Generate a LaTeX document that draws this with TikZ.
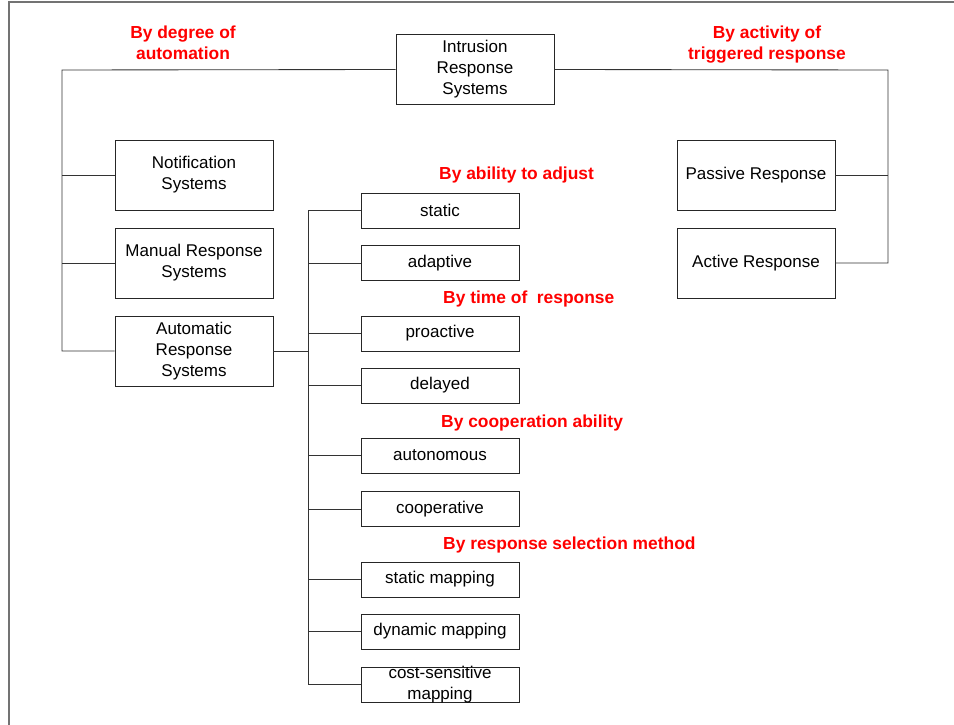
\documentclass[tikz,border=0pt]{standalone}
\usepackage{fontspec}
\setmainfont{Liberation Sans}
\begin{document}
\begin{tikzpicture}[x=1pt,y=-1pt,
  every node/.style={font=\fontsize{17}{21}\selectfont},
  bigbox/.style={draw=black!85, line width=0.9pt, fill=white, minimum width=158pt,
    minimum height=70pt, inner sep=0pt, align=center},
  smallbox/.style={draw=black!85, line width=0.9pt, fill=white, minimum width=158pt,
    minimum height=35pt, inner sep=0pt, align=center},
  cat/.style={text=red, font=\fontsize{17.4}{21}\selectfont\bfseries, align=center, inner sep=0pt},
  link/.style={draw=black!80, line width=0.85pt},
  frame/.style={draw=black!55, line width=2pt}]
\useasboundingbox (0,0) rectangle (954,725);

% page frame
\draw[frame] (9,725) -- (9,2) -- (954,2);

% root
\node[bigbox] (irs) at (475,69.5) {Intrusion\\Response\\Systems};

% by degree of automation
\node[bigbox] (notif) at (194,175) {Notification\\Systems};
\node[bigbox] (manual) at (194,263) {Manual Response\\Systems};
\node[bigbox] (auto) at (194,351) {Automatic\\Response\\Systems};

% by activity of triggered response
\node[bigbox] (passive) at (756,175) {Passive Response};
\node[bigbox] (active) at (756,263) {Active Response};

% automatic response subclasses
\node[smallbox] (static) at (440,210.5) {static};
\node[smallbox] (adaptive) at (440,263) {adaptive};
\node[smallbox] (proactive) at (440,333.5) {proactive};
\node[smallbox] (delayed) at (440,385.5) {delayed};
\node[smallbox] (autonomous) at (440,455.5) {autonomous};
\node[smallbox] (cooperative) at (440,509) {cooperative};
\node[smallbox] (smap) at (440,579.5) {static mapping};
\node[smallbox] (dmap) at (440,631.5) {dynamic mapping};
\node[smallbox] (cmap) at (440,684.5) {\parbox[c][35pt][c]{158pt}{\centering cost-sensitive\\mapping}};

% category labels
\node[cat] (lblauto) at (183,43) {By degree of\\automation};
\node[cat] (lblact) at (767,44.5) {By activity of\\triggered response};
\node[cat, anchor=west] (lbladj) at (439,175.5) {By ability to adjust};
\node[cat, anchor=west] (lbltime) at (443,298.5) {By time of\ \ response};
\node[cat, anchor=west] (lblcoop) at (441,422.5) {By cooperation ability};
\node[cat, anchor=west] (lblsel) at (443,544.5) {By response selection method};

% connector junctions
\coordinate (lt) at (62,70);
\coordinate (rt) at (888,70);
\coordinate (bus) at (308,351);

% left tree
\draw[link] (irs.west) -- (lt) |- (auto.west);
\draw[link] (lt |- notif.west) -- (notif.west);
\draw[link] (lt |- manual.west) -- (manual.west);

% right tree
\draw[link] (irs.east) -- (rt) |- (active.east);
\draw[link] (rt |- passive.east) -- (passive.east);

% automatic response tree
\draw[link] (auto.east) -- (bus);
\draw[link] (bus |- static.west) -- (bus |- cmap.west);
\foreach \n in {static,adaptive,proactive,delayed,autonomous,cooperative,smap,dmap,cmap}
  \draw[link] (bus |- \n.west) -- (\n.west);
\end{tikzpicture}
\end{document}
